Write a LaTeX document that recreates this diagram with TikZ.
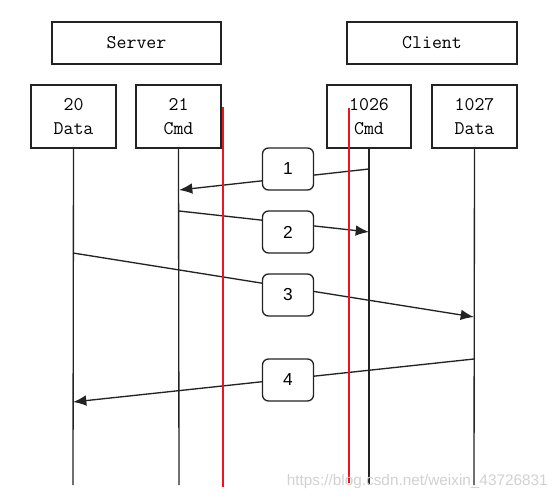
\documentclass[tikz,border=0pt]{standalone}
\usepackage{fontspec}
\setmainfont{Liberation Sans}
\usetikzlibrary{arrows.meta}
\definecolor{ln}{RGB}{35,35,35}
\definecolor{redl}{RGB}{236,20,30}
\begin{document}
\begin{tikzpicture}[x=0.75pt,y=-0.75pt,
  hostbox/.style={draw=ln,line width=1pt,inner sep=0pt,align=center,font=\ttfamily\fontsize{14.5}{18}\selectfont,minimum height={42*0.75pt}},
  portbox/.style={draw=ln,line width=1pt,inner sep=0pt,align=center,font=\ttfamily\fontsize{14.5}{18}\selectfont,minimum width={85*0.75pt},minimum height={63*0.75pt}},
  msgbox/.style={draw=ln,line width=1pt,fill=white,rounded corners=4.5pt,inner sep=0pt,font=\fontsize{13}{15}\selectfont,minimum width={51*0.75pt},minimum height={42*0.75pt}},
  life/.style={draw=ln,line width=1pt},
  msg/.style={draw=ln,line width=1pt,-{Latex[length=10pt,width=8pt]}},
  redline/.style={draw=redl,line width=2.2pt}]
\useasboundingbox (0,0) rectangle (557,500);
% hosts
\node[hostbox,minimum width={169*0.75pt}] (server) at (136.5,43) {Server};
\node[hostbox,minimum width={170*0.75pt}] (client) at (432,43) {Client};
% ports
\node[portbox] (p20) at (73.5,116.5) {20\\Data};
\node[portbox] (p21) at (178.5,116.5) {21\\Cmd};
\node[portbox,minimum width={84*0.75pt}] (p1026) at (369,116.5) {1026\\Cmd};
\node[portbox] (p1027) at (474.5,116.5) {1027\\Data};
% lifeline ends
\coordinate (b20) at (73,485);
\coordinate (b21) at (179,485);
\coordinate (b1026) at (369,485);
\coordinate (b1027) at (474,485);
\draw[life] (p20.south) -- (b20);
\draw[life] (p21.south) -- (b21);
\draw[life] (p1026.south) -- (b1026);
\draw[life] (p1027.south) -- (b1027);
% message end points
\coordinate (s1) at (369,169); \coordinate (e1) at (179,190);
\coordinate (s2) at (179,211); \coordinate (e2) at (369,232);
\coordinate (s3) at (73,253);  \coordinate (e3) at (474,317);
\coordinate (s4) at (474,359); \coordinate (e4) at (73,402);
\draw[msg] (s1) -- (e1);
\draw[msg] (s2) -- (e2);
\draw[msg] (s3) -- (e3);
\draw[msg] (s4) -- (e4);
\node[msgbox] (m1) at (288,169) {1};
\node[msgbox] (m2) at (288,232) {2};
\node[msgbox] (m3) at (288,295) {3};
\node[msgbox] (m4) at (288,380) {4};
% red lines
\coordinate (r1t) at (223,107); \coordinate (r1b) at (223,487);
\coordinate (r2t) at (349,108); \coordinate (r2b) at (349,483);
\draw[redline] (r1t) -- (r1b);
\draw[redline] (r2t) -- (r2b);
% watermark
\node[text=black!18,font=\fontsize{11.5}{13}\selectfont,anchor=east,inner sep=0pt] (wm) at (548,482) {https://blog.csdn.net/weixin\_43726831};
\end{tikzpicture}
\end{document}
